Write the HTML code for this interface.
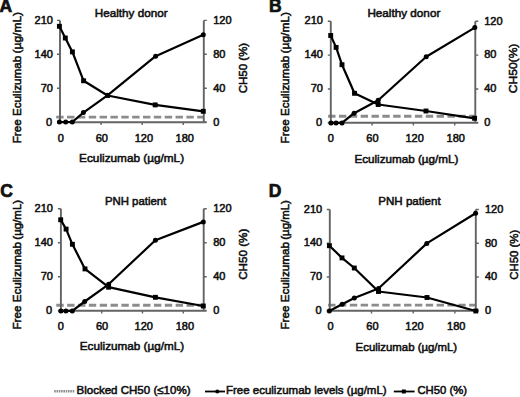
<!DOCTYPE html>
<html><head><meta charset="utf-8"><style>
html,body{margin:0;padding:0;background:#fff;}
svg{display:block;}
text{font-family:"Liberation Sans", sans-serif;fill:#111;stroke:#111;stroke-width:0.55px;}
.t{font-size:11px;stroke-width:0.55px;}
.l{font-size:11.4px;}
.big{font-size:17.5px;font-weight:bold;stroke-width:0.7px;}
</style></head><body>
<svg width="520" height="397" viewBox="0 0 520 397">
<rect width="520" height="397" fill="#fff"/>
<line x1="56.2" y1="117.1" x2="203.0" y2="117.1" stroke="#8c8c8c" stroke-width="2.9" stroke-dasharray="7.4 3.45"/>
<path d="M60.0 20.4 V122.2 M203.8 20.4 V122.2 M57.0 122.2 H206.8" stroke="#636363" stroke-width="1.9" fill="none"/>
<path d="M57.0 88.3 H60.0 M57.0 54.3 H60.0 M57.0 20.4 H60.0 M203.8 88.3 H206.8 M203.8 54.3 H206.8 M203.8 20.4 H206.8 M101.1 122.2 V125.0 M142.2 122.2 V125.0 M183.3 122.2 V125.0" stroke="#636363" stroke-width="1.4" fill="none"/>
<text x="52.2" y="125.95" text-anchor="end" class="t">0</text>
<text x="52.9" y="92.02" text-anchor="end" class="t">70</text>
<text x="52.9" y="58.08" text-anchor="end" class="t">140</text>
<text x="52.9" y="24.15" text-anchor="end" class="t">210</text>
<text x="213.2" y="125.70" class="t">0</text>
<text x="213.2" y="91.77" class="t">40</text>
<text x="213.2" y="57.83" class="t">80</text>
<text x="213.2" y="23.90" class="t">120</text>
<text x="60.70" y="141.7" text-anchor="middle" class="t">0</text>
<text x="101.75" y="141.7" text-anchor="middle" class="t">60</text>
<text x="143.85" y="141.7" text-anchor="middle" class="t">120</text>
<text x="184.75" y="141.7" text-anchor="middle" class="t">180</text>
<polyline points="59.4,26.3 65.3,38.0 72.4,51.9 83.6,80.8 107.5,95.5 155.2,104.9 203.3,111.3" fill="none" stroke="#000" stroke-width="2.2" stroke-linejoin="round"/>
<polyline points="59.4,122.0 65.7,122.0 72.3,122.0 83.4,112.6 107.5,95.3 155.6,56.2 203.3,34.8" fill="none" stroke="#000" stroke-width="2.2" stroke-linejoin="round"/>
<rect x="56.95" y="23.85" width="4.9" height="4.9" fill="#000"/>
<rect x="62.85" y="35.55" width="4.9" height="4.9" fill="#000"/>
<rect x="69.95" y="49.45" width="4.9" height="4.9" fill="#000"/>
<rect x="81.15" y="78.35" width="4.9" height="4.9" fill="#000"/>
<rect x="105.05" y="93.05" width="4.9" height="4.9" fill="#000"/>
<rect x="152.75" y="102.45" width="4.9" height="4.9" fill="#000"/>
<rect x="200.85" y="108.85" width="4.9" height="4.9" fill="#000"/>
<circle cx="59.4" cy="122.0" r="2.5" fill="#000"/>
<circle cx="65.7" cy="122.0" r="2.5" fill="#000"/>
<circle cx="72.3" cy="122.0" r="2.5" fill="#000"/>
<circle cx="83.4" cy="112.6" r="2.5" fill="#000"/>
<circle cx="107.5" cy="95.3" r="2.5" fill="#000"/>
<circle cx="155.6" cy="56.2" r="2.5" fill="#000"/>
<circle cx="203.3" cy="34.8" r="2.5" fill="#000"/>
<text x="94.8" y="16.9" textLength="72.8" lengthAdjust="spacingAndGlyphs" class="l">Healthy donor</text>
<text x="-0.5" y="12.0" class="big">A</text>
<text transform="translate(20.7,0) rotate(-90)" x="-143.3" y="0" textLength="87.6" lengthAdjust="spacingAndGlyphs" class="l">Free Eculizumab</text>
<text transform="translate(20.7,0) rotate(-90)" x="-53.4" y="0" textLength="41.4" lengthAdjust="spacingAndGlyphs" class="l">(µg/mL)</text>
<text transform="translate(246.6,0) rotate(-90)" x="-93.3" y="0" textLength="50.5" lengthAdjust="spacingAndGlyphs" class="l">CH50 (%)</text>
<text x="79.1" y="162.4" textLength="105.0" lengthAdjust="spacingAndGlyphs" class="l">Eculizumab (µg/mL)</text>
<line x1="328.1" y1="116.3" x2="475.0" y2="116.3" stroke="#8c8c8c" stroke-width="2.9" stroke-dasharray="7.4 3.45"/>
<path d="M330.8 21.3 V122.8 M475.3 21.3 V122.8 M327.8 122.8 H478.3" stroke="#636363" stroke-width="1.9" fill="none"/>
<path d="M327.8 89.0 H330.8 M327.8 55.1 H330.8 M327.8 21.3 H330.8 M475.3 89.0 H478.3 M475.3 55.1 H478.3 M475.3 21.3 H478.3 M372.1 122.8 V125.6 M413.4 122.8 V125.6 M454.7 122.8 V125.6" stroke="#636363" stroke-width="1.4" fill="none"/>
<text x="322.2" y="125.90" text-anchor="end" class="t">0</text>
<text x="322.9" y="92.05" text-anchor="end" class="t">70</text>
<text x="322.9" y="58.20" text-anchor="end" class="t">140</text>
<text x="322.9" y="24.35" text-anchor="end" class="t">210</text>
<text x="484.2" y="126.05" class="t">0</text>
<text x="484.2" y="92.20" class="t">40</text>
<text x="484.2" y="58.35" class="t">80</text>
<text x="484.2" y="24.50" class="t">120</text>
<text x="330.90" y="142.1" text-anchor="middle" class="t">0</text>
<text x="372.40" y="142.1" text-anchor="middle" class="t">60</text>
<text x="414.60" y="142.1" text-anchor="middle" class="t">120</text>
<text x="455.70" y="142.1" text-anchor="middle" class="t">180</text>
<polyline points="330.7,35.5 336.1,47.4 342.0,64.7 354.5,93.3 378.2,104.5 426.0,111.0 474.6,118.3" fill="none" stroke="#000" stroke-width="2.2" stroke-linejoin="round"/>
<polyline points="331.0,122.9 336.0,122.9 342.0,122.9 354.1,113.2 378.2,100.3 426.2,56.7 474.8,27.6" fill="none" stroke="#000" stroke-width="2.2" stroke-linejoin="round"/>
<rect x="328.25" y="33.05" width="4.9" height="4.9" fill="#000"/>
<rect x="333.65" y="44.95" width="4.9" height="4.9" fill="#000"/>
<rect x="339.55" y="62.25" width="4.9" height="4.9" fill="#000"/>
<rect x="352.05" y="90.85" width="4.9" height="4.9" fill="#000"/>
<rect x="375.75" y="102.05" width="4.9" height="4.9" fill="#000"/>
<rect x="423.55" y="108.55" width="4.9" height="4.9" fill="#000"/>
<rect x="472.15" y="115.85" width="4.9" height="4.9" fill="#000"/>
<circle cx="331.0" cy="122.9" r="2.5" fill="#000"/>
<circle cx="336.0" cy="122.9" r="2.5" fill="#000"/>
<circle cx="342.0" cy="122.9" r="2.5" fill="#000"/>
<circle cx="354.1" cy="113.2" r="2.5" fill="#000"/>
<circle cx="378.2" cy="100.3" r="2.5" fill="#000"/>
<circle cx="426.2" cy="56.7" r="2.5" fill="#000"/>
<circle cx="474.8" cy="27.6" r="2.5" fill="#000"/>
<text x="367.4" y="16.9" textLength="72.9" lengthAdjust="spacingAndGlyphs" class="l">Healthy donor</text>
<text x="269.0" y="11.9" class="big">B</text>
<text transform="translate(288.8,0) rotate(-90)" x="-143.4" y="0" textLength="87.7" lengthAdjust="spacingAndGlyphs" class="l">Free Eculizumab</text>
<text transform="translate(288.8,0) rotate(-90)" x="-53.4" y="0" textLength="41.3" lengthAdjust="spacingAndGlyphs" class="l">(µg/mL)</text>
<text transform="translate(517.2,0) rotate(-90)" x="-93.3" y="0" textLength="49.7" lengthAdjust="spacingAndGlyphs" class="l">CH50(%)</text>
<text x="354.4" y="162.6" textLength="103.9" lengthAdjust="spacingAndGlyphs" class="l">Eculizumab (µg/mL)</text>
<line x1="56.3" y1="305.2" x2="203.0" y2="305.2" stroke="#8c8c8c" stroke-width="2.9" stroke-dasharray="7.4 3.45"/>
<path d="M60.9 208.7 V310.7 M203.7 208.7 V310.7 M57.9 310.7 H206.7" stroke="#636363" stroke-width="1.9" fill="none"/>
<path d="M57.9 276.7 H60.9 M57.9 242.7 H60.9 M57.9 208.7 H60.9 M203.7 276.7 H206.7 M203.7 242.7 H206.7 M203.7 208.7 H206.7 M101.7 310.7 V313.5 M142.5 310.7 V313.5 M183.3 310.7 V313.5" stroke="#636363" stroke-width="1.4" fill="none"/>
<text x="52.2" y="313.95" text-anchor="end" class="t">0</text>
<text x="52.9" y="279.95" text-anchor="end" class="t">70</text>
<text x="52.9" y="245.95" text-anchor="end" class="t">140</text>
<text x="52.9" y="211.95" text-anchor="end" class="t">210</text>
<text x="213.2" y="313.85" class="t">0</text>
<text x="213.2" y="279.85" class="t">40</text>
<text x="213.2" y="245.85" class="t">80</text>
<text x="213.2" y="211.85" class="t">120</text>
<text x="60.90" y="329.7" text-anchor="middle" class="t">0</text>
<text x="102.00" y="329.7" text-anchor="middle" class="t">60</text>
<text x="143.80" y="329.7" text-anchor="middle" class="t">120</text>
<text x="184.85" y="329.7" text-anchor="middle" class="t">180</text>
<polyline points="60.7,219.8 66.1,229.1 72.4,244.3 85.0,268.9 108.6,287.2 155.4,297.3 203.3,306.0" fill="none" stroke="#000" stroke-width="2.2" stroke-linejoin="round"/>
<polyline points="60.9,310.9 65.9,310.9 72.3,310.9 84.7,301.5 108.6,284.3 155.4,240.2 203.3,221.9" fill="none" stroke="#000" stroke-width="2.2" stroke-linejoin="round"/>
<rect x="58.25" y="217.35" width="4.9" height="4.9" fill="#000"/>
<rect x="63.65" y="226.65" width="4.9" height="4.9" fill="#000"/>
<rect x="69.95" y="241.85" width="4.9" height="4.9" fill="#000"/>
<rect x="82.55" y="266.45" width="4.9" height="4.9" fill="#000"/>
<rect x="106.15" y="284.75" width="4.9" height="4.9" fill="#000"/>
<rect x="152.95" y="294.85" width="4.9" height="4.9" fill="#000"/>
<rect x="200.85" y="303.55" width="4.9" height="4.9" fill="#000"/>
<circle cx="60.9" cy="310.9" r="2.5" fill="#000"/>
<circle cx="65.9" cy="310.9" r="2.5" fill="#000"/>
<circle cx="72.3" cy="310.9" r="2.5" fill="#000"/>
<circle cx="84.7" cy="301.5" r="2.5" fill="#000"/>
<circle cx="108.6" cy="284.3" r="2.5" fill="#000"/>
<circle cx="155.4" cy="240.2" r="2.5" fill="#000"/>
<circle cx="203.3" cy="221.9" r="2.5" fill="#000"/>
<text x="104.9" y="205.0" textLength="61.4" lengthAdjust="spacingAndGlyphs" class="l">PNH patient</text>
<text x="0.3" y="197.4" class="big">C</text>
<text transform="translate(20.6,0) rotate(-90)" x="-329.5" y="0" textLength="87.4" lengthAdjust="spacingAndGlyphs" class="l">Free Eculizumab</text>
<text transform="translate(20.6,0) rotate(-90)" x="-239.7" y="0" textLength="39.8" lengthAdjust="spacingAndGlyphs" class="l">(µg/mL)</text>
<text transform="translate(246.7,0) rotate(-90)" x="-279.8" y="0" textLength="51.1" lengthAdjust="spacingAndGlyphs" class="l">CH50 (%)</text>
<text x="79.8" y="350.4" textLength="104.3" lengthAdjust="spacingAndGlyphs" class="l">Eculizumab (µg/mL)</text>
<line x1="328.1" y1="305.1" x2="475.3" y2="305.1" stroke="#8c8c8c" stroke-width="2.9" stroke-dasharray="7.4 3.45"/>
<path d="M329.8 209.5 V310.8 M475.8 209.5 V310.8 M326.8 310.8 H478.8" stroke="#636363" stroke-width="1.9" fill="none"/>
<path d="M326.8 277.0 H329.8 M326.8 243.3 H329.8 M326.8 209.5 H329.8 M475.8 277.0 H478.8 M475.8 243.3 H478.8 M475.8 209.5 H478.8 M371.5 310.8 V313.6 M413.2 310.8 V313.6 M454.9 310.8 V313.6" stroke="#636363" stroke-width="1.4" fill="none"/>
<text x="321.5" y="313.85" text-anchor="end" class="t">0</text>
<text x="322.2" y="280.08" text-anchor="end" class="t">70</text>
<text x="322.2" y="246.32" text-anchor="end" class="t">140</text>
<text x="322.2" y="212.55" text-anchor="end" class="t">210</text>
<text x="484.9" y="314.05" class="t">0</text>
<text x="484.9" y="280.28" class="t">40</text>
<text x="484.9" y="246.52" class="t">80</text>
<text x="484.9" y="212.75" class="t">120</text>
<text x="330.50" y="330.1" text-anchor="middle" class="t">0</text>
<text x="372.40" y="330.1" text-anchor="middle" class="t">60</text>
<text x="414.50" y="330.1" text-anchor="middle" class="t">120</text>
<text x="456.20" y="330.1" text-anchor="middle" class="t">180</text>
<polyline points="329.4,245.7 342.0,257.9 354.3,268.0 378.5,291.5 427.0,297.5 475.8,311.0" fill="none" stroke="#000" stroke-width="2.2" stroke-linejoin="round"/>
<polyline points="329.3,310.9 342.2,304.3 354.3,298.0 378.5,288.5 426.8,243.4 475.6,213.3" fill="none" stroke="#000" stroke-width="2.2" stroke-linejoin="round"/>
<rect x="326.95" y="243.25" width="4.9" height="4.9" fill="#000"/>
<rect x="339.55" y="255.45" width="4.9" height="4.9" fill="#000"/>
<rect x="351.85" y="265.55" width="4.9" height="4.9" fill="#000"/>
<rect x="376.05" y="289.05" width="4.9" height="4.9" fill="#000"/>
<rect x="424.55" y="295.05" width="4.9" height="4.9" fill="#000"/>
<rect x="473.35" y="308.55" width="4.9" height="4.9" fill="#000"/>
<circle cx="329.3" cy="310.9" r="2.5" fill="#000"/>
<circle cx="342.2" cy="304.3" r="2.5" fill="#000"/>
<circle cx="354.3" cy="298.0" r="2.5" fill="#000"/>
<circle cx="378.5" cy="288.5" r="2.5" fill="#000"/>
<circle cx="426.8" cy="243.4" r="2.5" fill="#000"/>
<circle cx="475.6" cy="213.3" r="2.5" fill="#000"/>
<text x="378.3" y="205.0" textLength="62.3" lengthAdjust="spacingAndGlyphs" class="l">PNH patient</text>
<text x="268.8" y="196.7" class="big">D</text>
<text transform="translate(288.5,0) rotate(-90)" x="-329.5" y="0" textLength="87.4" lengthAdjust="spacingAndGlyphs" class="l">Free Eculizumab</text>
<text transform="translate(288.5,0) rotate(-90)" x="-239.7" y="0" textLength="39.6" lengthAdjust="spacingAndGlyphs" class="l">(µg/mL)</text>
<text transform="translate(517.5,0) rotate(-90)" x="-279.8" y="0" textLength="50.0" lengthAdjust="spacingAndGlyphs" class="l">CH50 (%)</text>
<text x="355.6" y="350.9" textLength="101.5" lengthAdjust="spacingAndGlyphs" class="l">Eculizumab (µg/mL)</text>
<line x1="54.2" y1="391.3" x2="74.2" y2="391.3" stroke="#8e8e8e" stroke-width="2.6" stroke-dasharray="1.6 0.7"/>
<text x="76.5" y="394.2" textLength="114.0" lengthAdjust="spacingAndGlyphs" class="l">Blocked CH50 (≤10%)</text>
<line x1="205" y1="391.5" x2="225" y2="391.5" stroke="#000" stroke-width="1.8"/>
<circle cx="217.3" cy="391.5" r="2.1" fill="#000"/>
<text x="225.9" y="394.2" textLength="160.8" lengthAdjust="spacingAndGlyphs" class="l">Free eculizumab levels (µg/mL)</text>
<line x1="393.8" y1="391.5" x2="414.6" y2="391.5" stroke="#000" stroke-width="1.8"/>
<rect x="401.8" y="389.5" width="4" height="4" fill="#000"/>
<text x="417.4" y="394.2" textLength="49.6" lengthAdjust="spacingAndGlyphs" class="l">CH50 (%)</text>
</svg>
</body></html>
